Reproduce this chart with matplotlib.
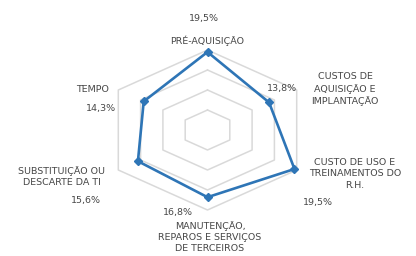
import numpy as np
import matplotlib
matplotlib.use("Agg")
import matplotlib.pyplot as plt

categories = ["PRÉ-AQUISIÇÃO", "CUSTOS DE\nAQUISIÇÃO E\nIMPLANTAÇÃO", "CUSTO DE USO E\nTREINAMENTOS DO\nR.H.",
              "MANUTENÇÃO,\nREPAROS E SERVIÇOS\nDE TERCEIROS", "SUBSTITUIÇÃO OU\nDESCARTE DA TI", "TEMPO"]
values = [19.5, 13.8, 19.5, 16.8, 15.6, 14.3]
value_labels = ["19,5%", "13,8%", "19,5%", "16,8%", "15,6%", "14,3%"]
ring_levels = [5, 10, 15, 20]

W, H = 416, 256
fig = plt.figure(figsize=(W / 100, H / 100), dpi=100)
ax = fig.add_axes([0, 0, 1, 1])
cx, cy = 207.5, 130.0   # center in pixels (from top)
rx, ry = 103.0, 80.0    # pixels for max ring
rmax = 20.0
ax.set_xlim(-cx / rx * rmax, (W - cx) / rx * rmax)
ax.set_ylim(-(H - cy) / ry * rmax, cy / ry * rmax)
ax.axis("off")

n = len(values)
ang = np.pi / 2 - np.arange(n) * 2 * np.pi / n
angc = np.append(ang, ang[0])

grid_col = "#d9d9d9"
for lv in ring_levels:
    ax.plot(lv * np.cos(angc), lv * np.sin(angc), color=grid_col, lw=1.1, zorder=1)

v = np.append(values, values[0])
ax.plot(v * np.cos(angc), v * np.sin(angc), color="#2e75b6", lw=1.9, zorder=3)
ax.plot(np.array(values) * np.cos(ang), np.array(values) * np.sin(ang), ls="none",
        marker="D", ms=3.8, color="#2e75b6", zorder=4)

tc = "#474747"
fs = 6.8
def px(x, y):
    return x / W, 1 - y / H

# category labels (pixel centers)
cat_pos = [(207, 41, "center", "center"), (345, 89, "center", "center"), (355, 174, "center", "center"),
           (210, 237, "center", "center"), (62, 177, "center", "center"), (93, 90, "center", "center")]
for lab, (x, y, ha, va) in zip(categories, cat_pos):
    fx, fy = px(x, y)
    fig.text(fx, fy, lab, ha=ha, va=va, fontsize=fs, color=tc, linespacing=1.3,
             family="DejaVu Sans")

val_pos = [(204, 18), (282, 88), (318, 202), (178, 213), (86, 200), (101, 108)]
for lab, (x, y) in zip(value_labels, val_pos):
    fx, fy = px(x, y)
    fig.text(fx, fy, lab, ha="center", va="center", fontsize=fs, color=tc, family="DejaVu Sans")

fig.savefig("out.png", dpi=100, facecolor="white")
